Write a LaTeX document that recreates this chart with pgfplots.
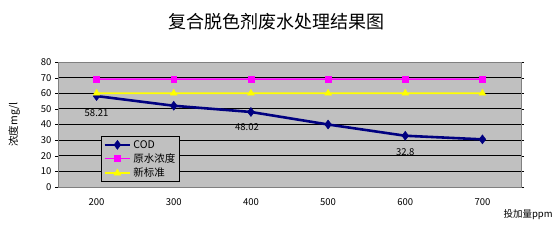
\documentclass[border=0pt]{standalone}
\usepackage{pgfplots}
\pgfplotsset{compat=1.18}
\usepackage{fontspec}
\setmainfont{Noto Sans CJK SC}
\usetikzlibrary{calc}
\definecolor{plotgray}{RGB}{192,192,192}
\definecolor{navyc}{RGB}{0,0,128}
\definecolor{magc}{RGB}{255,0,255}
\definecolor{yelc}{RGB}{255,255,0}
\begin{document}
\begin{tikzpicture}
\begin{axis}[
  name=ax,
  set layers,
  scale only axis,
  width=463bp, height=125bp,
  xmin=-0.5, xmax=5.5,
  ymin=0, ymax=80,
  xtick={0,1,2,3,4,5},
  xticklabels={200,300,400,500,600,700},
  major x tick style={draw=none},
  extra x ticks={0.5,1.5,2.5,3.5,4.5},
  extra x tick labels={},
  extra x tick style={tick style={black}, major tick length=4bp, tick align=outside, grid=none},
  ytick={0,10,...,80},
  ymajorgrids,
  grid style={black, line width=0.8pt},
  y tick style={black},
  tick align=outside,
  major tick length=3bp,
  axis background/.style={fill=plotgray},
  axis line style={gray, line width=0.8pt},
  tick label style={font=\fontsize{9.5bp}{10bp}\selectfont},
  /pgf/number format/assume math mode=true,
  xticklabel style={yshift=-5bp},
  ylabel={浓度mg/l},
  ylabel style={font=\fontsize{10.5bp}{11bp}\selectfont, yshift=14bp},
  legend style={at={(rel axis cs:0.093,0.04)}, anchor=south west, fill=plotgray, draw=black, line width=0.6pt,
    font=\fontsize{10.5bp}{11bp}\selectfont, row sep=0bp, inner sep=1.5bp, inner xsep=2bp},
  legend cell align=left,
  legend image code/.code={\draw[mark repeat=2, mark phase=2] plot coordinates {(0cm,0cm) (0.45cm,0cm) (0.9cm,0cm)};},
  clip=false,
]
\addplot[color=navyc, line width=2.6pt, mark=diamond*, mark size=4.5pt, mark options={line width=0.5pt, fill=navyc}]
  coordinates {(0,58.21) (1,52) (2,48.02) (3,40) (4,32.8) (5,30.5)};
\addlegendentry{COD}
\addplot[draw=magc, line width=1.6pt, mark=square*, mark size=3pt, mark options={line width=0.5pt, draw=magc, fill=magc}]
  coordinates {(0,69) (1,69) (2,69) (3,69) (4,69) (5,69.01)};
\addlegendentry{原水浓度}
\addplot[draw=yelc, line width=1.6pt, mark=triangle*, mark size=4pt, mark options={line width=0.5pt, draw=yelc, fill=yelc}]
  coordinates {(0,60) (1,60) (2,60) (3,60) (4,60) (5,60.01)};
\addlegendentry{新标准}
\node[font=\fontsize{9.5bp}{10bp}\selectfont] at (axis cs:0,47) {58.21};
\node[font=\fontsize{9.5bp}{10bp}\selectfont] at (axis cs:1.95,38.5) {48.02};
\node[font=\fontsize{9.5bp}{10bp}\selectfont] at (axis cs:4,22.5) {32.8};
\end{axis}
\path[use as bounding box] ($(ax.south west)+(-58bp,-56bp)$) rectangle ($(ax.north east)+(36bp,62bp)$);
\node[font=\fontsize{18bp}{19bp}\selectfont] at ($(ax.north west)+(218bp,40bp)$) {复合脱色剂废水处理结果图};
\node[font=\fontsize{9.5bp}{10bp}\selectfont, anchor=west] at ($(ax.south east)+(-21bp,-28bp)$) {投加量ppm};
\end{tikzpicture}
\end{document}
